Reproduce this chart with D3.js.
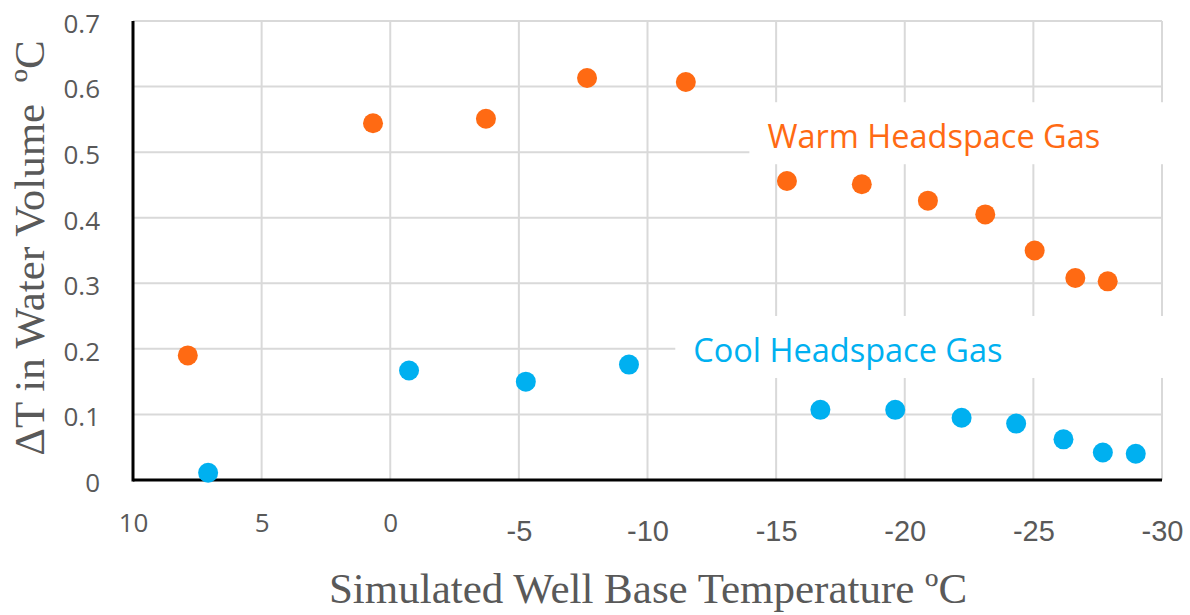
<html>
<head>
<meta charset="utf-8" />
<title>Delta T in Water Volume</title>
<script src="https://cdn.jsdelivr.net/npm/d3@7"></script>
<style>
  body { margin: 0; background: #fff; }
</style>
</head>
<body>
<script>

// well base temperature (x) and delta T (y) for each series
var warmTemp = [7.87, 0.67, -3.72, -7.65, -11.49, -15.42, -18.33, -20.90, -23.13, -25.05, -26.63, -27.89];
var warmDT   = [0.190, 0.544, 0.551, 0.613, 0.607, 0.456, 0.451, 0.426, 0.405, 0.350, 0.308, 0.303];

var coolTemp = [7.08, -0.73, -5.27, -9.28, -16.72, -19.63, -22.21, -24.33, -26.17, -27.70, -28.98];
var coolDT   = [0.011, 0.167, 0.150, 0.176, 0.107, 0.107, 0.095, 0.086, 0.062, 0.042, 0.040];

var xTicks = [10, 5, 0, -5, -10, -15, -20, -25, -30];
var yTicks = [0, 0.1, 0.2, 0.3, 0.4, 0.5, 0.6, 0.7];

var seriesNames = ["Warm Headspace Gas", "Cool Headspace Gas"];
var seriesColors = ["#FF6A13", "#00B0F0"];
// where each series label starts (data units: temperature, delta T)
var labelTemp = [-14.66, -11.78];
var labelDT = [0.506, 0.180];

var W = 1190, H = 615;
var margin = {top: 21, right: 28, bottom: 135, left: 133};

var svg = d3.select("body").append("svg")
	.attr("width", W)
	.attr("height", H);

var x = d3.scaleLinear().domain([10, -30]).range([margin.left, W - margin.right]);
var y = d3.scaleLinear().domain([0, 0.7]).range([H - margin.bottom, margin.top]);

var grey = "#595959";

// gridlines
svg.append("g")
	.selectAll("line.v")
	.data(xTicks.slice(1))
	.join("line")
	.attr("x1", d => x(d)).attr("x2", d => x(d))
	.attr("y1", y(0)).attr("y2", y(0.7))
	.attr("stroke", "#D9D9D9").attr("stroke-width", 2);

svg.append("g")
	.selectAll("line.h")
	.data(yTicks.slice(1))
	.join("line")
	.attr("x1", x(10)).attr("x2", x(-30))
	.attr("y1", d => y(d)).attr("y2", d => y(d))
	.attr("stroke", "#D9D9D9").attr("stroke-width", 2);

// white boxes behind the series labels
var labels = svg.append("g");
seriesNames.forEach(function(name, i) {
	var lx = x(labelTemp[i]), ly = y(labelDT[i]);
	labels.append("rect")
		.attr("x", lx - 18)
		.attr("y", ly - 46)
		.attr("width", W - (lx - 18))
		.attr("height", 62)
		.attr("fill", "#fff");
	labels.append("text")
		.attr("x", lx)
		.attr("y", ly)
		.attr("font-family", "'Open Sans', sans-serif")
		.attr("font-size", 32.5)
		.attr("fill", seriesColors[i])
		.text(name);
});

// axes
var yAxis = svg.append("g")
	.attr("transform", "translate(" + margin.left + ",0)")
	.call(d3.axisLeft(y).tickValues(yTicks).tickSize(0).tickPadding(33)
		.tickFormat(d => d === 0 ? "0" : d3.format(".1f")(d)));
yAxis.select(".domain").remove();
yAxis.selectAll("text")
	.attr("y", 3)
	.attr("font-family", "'Open Sans', sans-serif")
	.attr("font-size", 26)
	.attr("fill", grey);

var xAxis = svg.append("g")
	.attr("transform", "translate(0," + y(0) + ")")
	.call(d3.axisBottom(x).tickValues(xTicks).tickSize(0).tickFormat(d3.format("d")));
xAxis.select(".domain").remove();
xAxis.selectAll("text")
	.attr("dy", null)
	.attr("y", d => d >= 0 ? 52 : 61)
	.attr("font-family", d => d >= 0 ? "'Open Sans', sans-serif" : "'Liberation Sans', Arial, sans-serif")
	.attr("font-size", d => d >= 0 ? 26 : 29)
	.attr("fill", grey)
	.text(d => d < 0 ? "-" + Math.abs(d) : d);

// axis lines
svg.append("line")
	.attr("x1", x(10)).attr("x2", x(10))
	.attr("y1", y(0.7)).attr("y2", y(0) + 1.5)
	.attr("stroke", "#000").attr("stroke-width", 3);
svg.append("line")
	.attr("x1", x(10)).attr("x2", x(-30))
	.attr("y1", y(0)).attr("y2", y(0))
	.attr("stroke", "#000").attr("stroke-width", 3);

// points
var warm = warmTemp.map((t, i) => ({t: t, v: warmDT[i]}));
var cool = coolTemp.map((t, i) => ({t: t, v: coolDT[i]}));

svg.append("g").selectAll("circle")
	.data(warm)
	.join("circle")
	.attr("cx", d => x(d.t)).attr("cy", d => y(d.v))
	.attr("r", 10)
	.attr("fill", seriesColors[0]);

svg.append("g").selectAll("circle")
	.data(cool)
	.join("circle")
	.attr("cx", d => x(d.t)).attr("cy", d => y(d.v))
	.attr("r", 10)
	.attr("fill", seriesColors[1]);

// axis titles
svg.append("text")
	.attr("x", 648)
	.attr("y", 603)
	.attr("text-anchor", "middle")
	.attr("font-family", "'Liberation Serif', 'DejaVu Serif', serif")
	.attr("font-size", 43)
	.attr("fill", grey)
	.text("Simulated Well Base Temperature ºC");

svg.append("text")
	.attr("transform", "translate(44," + 248 + ") rotate(-90)")
	.attr("text-anchor", "middle")
	.attr("font-family", "'Liberation Serif', 'DejaVu Serif', serif")
	.attr("font-size", 43)
	.attr("fill", grey)
	.attr("xml:space", "preserve")
	.style("white-space", "pre")
	.text("ΔT in Water Volume  ºC");

</script>
</body>
</html>
